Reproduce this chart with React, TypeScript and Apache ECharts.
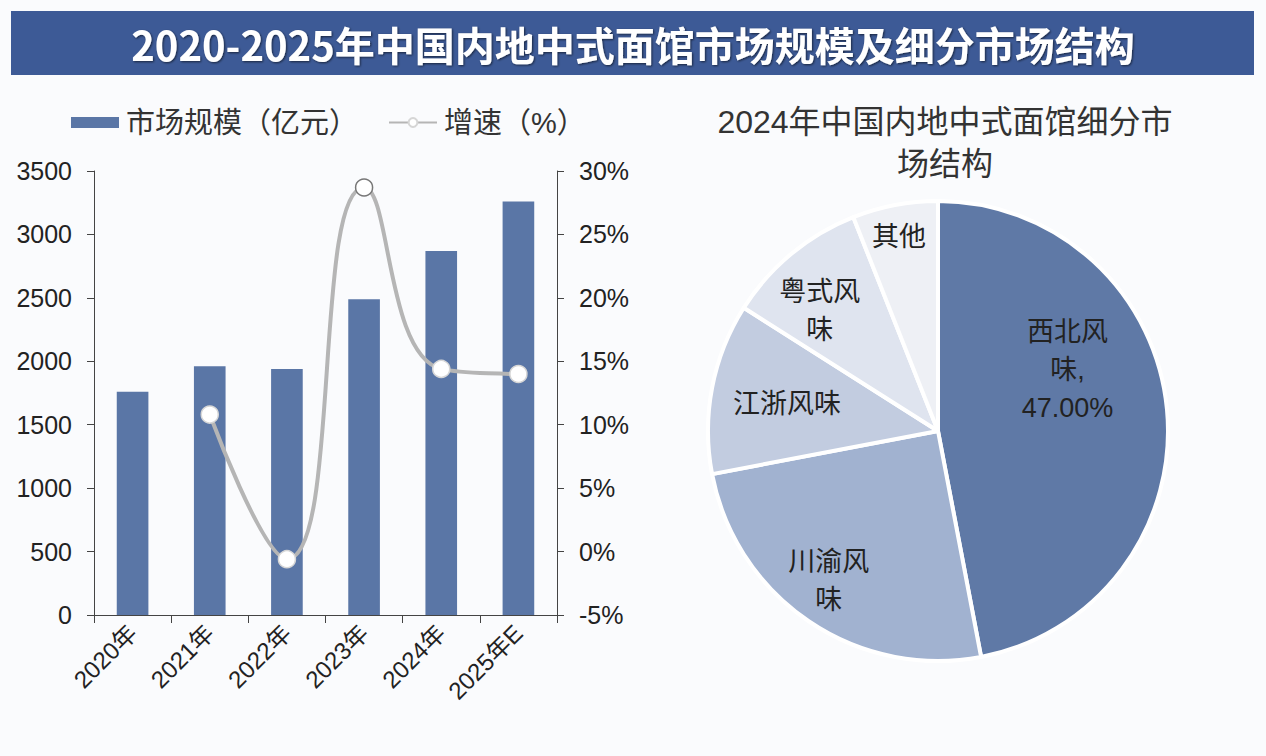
import React, { useEffect, useRef } from "react";
import * as echarts from "echarts";

const years = ["2020年", "2021年", "2022年", "2023年", "2024年", "2025年E"];
const marketSize = [1760, 1960, 1940, 2490, 2870, 3260];
const growth = [null, 10.8, -0.6, 28.7, 14.4, 14.0];
const leftAxis = { min: 0, max: 3500, interval: 500 };
const rightAxis = { min: -5, max: 30, interval: 5 };

const segNames = ["西北风味", "川渝风味", "江浙风味", "粤式风味", "其他"];
const segShares = [47, 25, 12, 10, 6];
const segLabels = ["西北风\n味,\n47.00%", "川渝风\n味", "江浙风味", "粤式风\n味", "其他"];

const mainTitle = "2020-2025年中国内地中式面馆市场规模及细分市场结构";
const pieTitle = "2024年中国内地中式面馆细分市\n场结构";
const legendNames = ["市场规模（亿元）", "增速（%）"];

// layout / style constants
const segColors = ["#5f79a6", "#a1b2d0", "#c2cce0", "#dfe4ef", "#eef0f5"];
const labelShift = [
  [12, -50],
  [-43, 52],
  [-35, -5],
  [-43, -29],
  [-17, -78],
];
const CJK = "'Liberation Sans', 'Noto Sans CJK SC', sans-serif";

export default function App() {
  const ref = useRef<HTMLDivElement>(null);
  useEffect(() => {
    if (!ref.current) return;
    const chart = echarts.init(ref.current, undefined, { renderer: "svg" });
    const option: any = {
      animation: false,
      backgroundColor: "#fafbfd",
      textStyle: { fontFamily: CJK },
      graphic: [
        {
          type: "rect",
          shape: { x: 11, y: 11, width: 1243, height: 64 },
          style: { fill: "#3d5a96" },
          silent: true,
        },
        {
          type: "text",
          x: 633,
          y: 44,
          style: {
            text: mainTitle,
            fill: "#ffffff",
            font: "bold 40px 'Noto Sans CJK SC', sans-serif",
            textAlign: "center",
            textVerticalAlign: "middle",
            textShadowColor: "rgba(0,0,0,0.6)",
            textShadowBlur: 2,
            textShadowOffsetX: 1,
            textShadowOffsetY: 1,
          },
          silent: true,
        },
      ],
      title: {
        text: pieTitle,
        left: 940,
        top: 96,
        textAlign: "center",
        textStyle: {
          fontFamily: CJK,
          fontSize: 32,
          fontWeight: "normal",
          color: "#333333",
          lineHeight: 42,
        },
      },
      legend: {
        left: 66,
        top: 103,
        itemGap: 30,
        itemWidth: 48,
        itemHeight: 11,
        textStyle: { fontSize: 29, color: "#333333", fontFamily: CJK, padding: [0, 0, 0, 2] },
        data: [
          { name: legendNames[0], icon: "rect" },
          { name: legendNames[1] },
        ],
      },
      grid: { left: 94, right: 709, top: 171, bottom: 141 },
      xAxis: {
        type: "category",
        data: years,
        axisLine: { lineStyle: { color: "#444444", width: 1 } },
        axisTick: { show: true, length: 8, lineStyle: { color: "#444444" } },
        axisLabel: {
          rotate: 45,
          fontSize: 24,
          color: "#222222",
          margin: 14,
          fontFamily: CJK,
        },
      },
      yAxis: [
        {
          type: "value",
          ...leftAxis,
          axisLine: { show: true, lineStyle: { color: "#444444" } },
          axisTick: { show: true, length: 7, lineStyle: { color: "#444444" } },
          splitLine: { show: false },
          axisLabel: {
            fontSize: 25,
            color: "#222222",
            margin: 22,
            formatter: (v: number) => String(v),
            fontFamily: "'Liberation Sans', sans-serif",
          },
        },
        {
          type: "value",
          ...rightAxis,
          axisLine: { show: true, lineStyle: { color: "#444444" } },
          axisTick: { show: true, length: 7, lineStyle: { color: "#444444" } },
          splitLine: { show: false },
          axisLabel: {
            fontSize: 25,
            color: "#222222",
            margin: 22,
            formatter: "{value}%",
            fontFamily: "'Liberation Sans', sans-serif",
          },
        },
      ],
      series: [
        {
          name: legendNames[0],
          type: "bar",
          data: marketSize,
          barWidth: "41%",
          itemStyle: { color: "#5a76a6" },
        },
        {
          name: legendNames[1],
          type: "line",
          yAxisIndex: 1,
          data: growth.map((v, i) =>
            i === 3
              ? { value: v, itemStyle: { color: "#ffffff", borderColor: "#777777", borderWidth: 1.5 } }
              : v
          ),
          smooth: 0.5,
          connectNulls: false,
          symbol: "circle",
          symbolSize: 17,
          showSymbol: true,
          lineStyle: { color: "#b5b5b5", width: 4 },
          itemStyle: { color: "#ffffff", borderColor: "#d6d6d6", borderWidth: 1.5 },
          z: 5,
        },
        {
          name: "细分市场结构",
          type: "pie",
          center: [938, 431],
          radius: [0, 230],
          startAngle: 90,
          clockwise: true,
          avoidLabelOverlap: false,
          itemStyle: { borderColor: "#ffffff", borderWidth: 4 },
          label: {
            show: true,
            position: "inside",
            fontSize: 27,
            lineHeight: 38,
            color: "#222222",
            fontFamily: CJK,
            formatter: (p: any) => segLabels[p.dataIndex],
          },
          labelLine: { show: false },
          labelLayout: (p: any) => ({
            dx: labelShift[p.dataIndex][0],
            dy: labelShift[p.dataIndex][1],
          }),
          data: segNames.map((n, i) => ({
            name: n,
            value: segShares[i],
            itemStyle: { color: segColors[i] },
          })),
        },
      ],
    };
    chart.setOption(option);
    return () => chart.dispose();
  }, []);
  return (
    <div
      ref={ref}
      style={{ position: "fixed", left: 0, top: 0, width: 1266, height: 756 }}
    />
  );
}
